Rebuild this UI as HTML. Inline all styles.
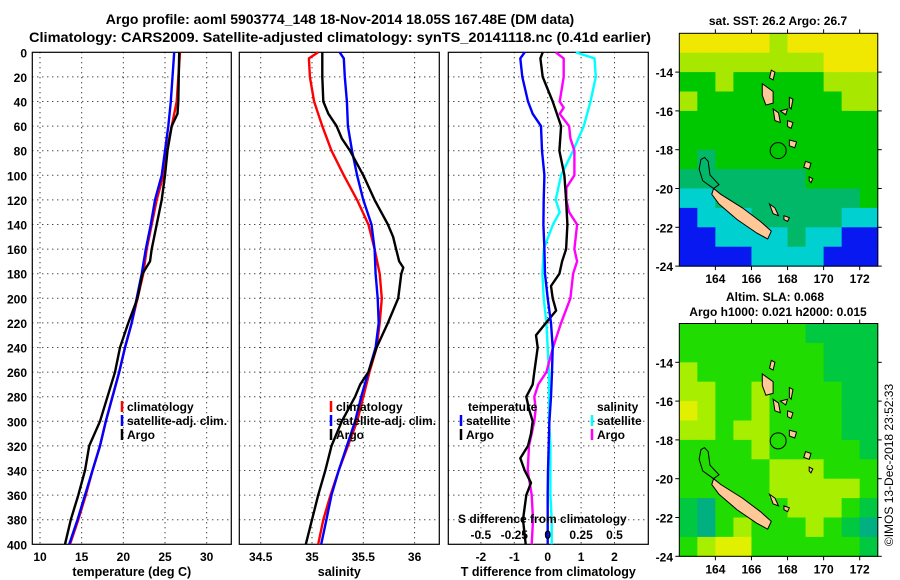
<!DOCTYPE html>
<html><head><meta charset="utf-8"><style>
html,body{margin:0;padding:0;background:#fff;}
svg{display:block;font-family:"Liberation Sans",Arial,sans-serif;font-weight:bold;}
</style></head><body>
<svg id="fig" width="900" height="580" viewBox="0 0 900 580" xmlns="http://www.w3.org/2000/svg">
<text x="340" y="24" font-size="14" text-anchor="middle">Argo profile: aoml 5903774_148 18-Nov-2014 18.05S 167.48E (DM data)</text>
<text x="340" y="42" font-size="14" text-anchor="middle" textLength="622" lengthAdjust="spacingAndGlyphs">Climatology: CARS2009. Satellite-adjusted climatology: synTS_20141118.nc (0.41d earlier)</text>
<text x="778" y="25" font-size="12" text-anchor="middle">sat. SST: 26.2 Argo: 26.7</text>
<text x="775" y="301" font-size="12" text-anchor="middle">Altim. SLA: 0.068</text>
<text x="778" y="316" font-size="12" text-anchor="middle">Argo h1000: 0.021 h2000: 0.015</text>
<text transform="translate(893,465) rotate(-90)" font-size="12" font-weight="normal" text-anchor="middle">©IMOS 13-Dec-2018 23:52:33</text>
</svg>
<script>
// ---------- DATA ----------
const depthTicks = [0,20,40,60,80,100,120,140,160,180,200,220,240,260,280,300,320,340,360,380,400];
const tempTicks = [10,15,20,25,30];
const salTicks = [34.5,35,35.5,36];
const tdiffTicks = [-2,-1,0,1,2];
const sdiffTickLabels = ["-0.5","-0.25","0","0.25","0.5"];
const sdiffTicks = [-0.5,-0.25,0,0.25,0.5];

const tClimP = [0,40,60,80,100,120,140,160,180,200,220,240,260,280,300,320,340,360,380,400];
const tClimV = [26.8,26.4,25.8,25.2,24.8,24.0,23.4,22.8,22.4,21.7,21.0,20.2,19.5,18.7,17.9,17.2,16.3,15.5,14.6,13.6];
const tSatP = [0,20,40,60,80,100,120,140,160,180,200,220,240,260,280,300,320,340,360,380,400];
const tSatV = [26.1,25.9,25.7,25.4,25.0,24.6,23.8,23.3,22.7,22.2,21.6,21.0,20.2,19.5,18.7,17.9,17.2,16.3,15.4,14.5,13.5];
const tArgoP = [0,40,50,60,80,100,120,140,160,170,180,190,200,220,240,260,280,300,320,340,360,380,400];
const tArgoV = [26.7,26.6,26.5,25.8,25.3,25.0,24.6,24.0,23.4,23.2,22.3,22.0,21.7,20.6,19.6,19.0,18.1,17.2,15.9,15.4,14.6,13.7,13.0];

const sClimP = [0,5,20,40,60,80,100,120,140,160,180,200,220,240,260,280,300,320,340,360,380,400];
const sClimV = [35.06,34.97,34.98,35.02,35.10,35.19,35.31,35.44,35.55,35.61,35.66,35.68,35.66,35.63,35.56,35.50,35.44,35.35,35.26,35.18,35.11,35.06];
const sSatP = [0,5,20,40,60,80,100,120,140,160,180,200,220,240,260,280,300,320,340,360,380,400];
const sSatV = [35.27,35.31,35.32,35.34,35.35,35.39,35.44,35.50,35.58,35.61,35.62,35.64,35.65,35.62,35.55,35.48,35.42,35.34,35.26,35.19,35.14,35.09];
const sArgoP = [0,20,40,50,60,70,80,100,120,140,150,160,170,175,180,200,220,240,260,270,280,300,320,340,360,380,400];
const sArgoV = [35.10,35.10,35.11,35.16,35.24,35.29,35.37,35.50,35.61,35.74,35.79,35.82,35.85,35.89,35.87,35.84,35.74,35.63,35.55,35.47,35.42,35.29,35.19,35.13,35.06,35.00,34.94];

const dTSatP = [0,5,20,40,50,60,80,100,120,140,160,180,200,220,240,260,280,300,320,340,360,380,400];
const dTSatV = [-0.69,-0.82,-0.76,-0.59,-0.45,-0.20,-0.17,-0.10,-0.12,-0.13,-0.10,-0.08,0,0.10,0.15,0.13,0.10,0.05,0.03,0.01,0,0,0];
const dTArgoP = [0,5,20,40,60,80,100,120,140,160,170,180,190,200,210,220,230,240,260,270,280,290,300,310,320,330,340,350,360,380,400];
const dTArgoV = [-0.15,-0.22,-0.15,0.15,0.40,0.35,0.50,0.55,0.59,0.55,0.43,0.35,0.10,0.15,0.25,-0.05,-0.35,-0.30,-0.40,-0.45,-0.64,-0.56,-0.45,-0.50,-0.59,-0.82,-0.69,-0.50,-0.64,-0.74,-0.66];
const dSArgoP = [0,5,20,40,45,50,60,70,80,100,110,120,130,140,160,170,180,200,220,240,260,270,280,290,300,310,320,340,360,380,400];
const dSArgoV = [0.06,0.12,0.12,0.09,0.12,0.09,0.16,0.17,0.20,0.20,0.14,0.14,0.16,0.22,0.20,0.22,0.19,0.17,0.10,0.04,-0.01,-0.07,-0.10,-0.09,-0.10,-0.12,-0.14,-0.15,-0.12,-0.11,-0.12];
const dSSatP = [0,5,20,40,60,80,100,120,130,140,160,180,200,220,240,260,280,300,320,340,360,380,400];
const dSSatV = [0.21,0.35,0.36,0.32,0.27,0.19,0.10,0.06,0.09,0.04,-0.03,-0.04,-0.03,-0.01,0,0.01,0.01,0.01,0.02,0.02,0.02,0.03,0.03];

const lonTicks = [164,166,168,170,172];
const latTicks = [-14,-16,-18,-20,-22,-24];
const sstGrid = [
 [5,5,5,5,5,4,5,5,5,5,5],
 [4,4,4,4,4,4,4,4,5,5,5],
 [3,3,4,3,3,3,3,3,4,4,4],
 [4,3,3,3,3,3,3,3,3,4,4],
 [3,3,3,3,3,3,3,3,3,3,3],
 [3,3,3,3,3,3,3,3,3,3,3],
 [3,2,3,3,3,3,3,3,3,3,3],
 [2,2,2,2,2,2,2,3,3,3,3],
 [1,1,2,2,2,2,2,2,2,2,3],
 [0,1,1,1,2,2,2,2,2,1,1],
 [0,0,1,1,1,1,2,1,1,0,0],
 [0,0,0,0,1,1,1,1,0,0,0]];
const slaGrid = [
 [2,2,2,2,2,2,2,1,1,1,1],
 [2,2,2,2,2,2,2,2,1,1,1],
 [3,2,2,2,2,2,2,2,1,1,1],
 [3,3,2,2,3,2,2,2,2,1,1],
 [4,3,2,2,3,2,2,2,2,1,1],
 [3,3,2,3,3,2,2,2,2,1,1],
 [2,2,2,2,3,2,2,2,2,2,1],
 [2,2,2,2,2,3,3,3,2,2,2],
 [2,2,2,2,2,3,3,3,3,3,2],
 [1,0,2,2,2,2,3,3,3,2,1],
 [1,0,2,3,2,2,2,3,2,1,0],
 [2,3,4,4,2,2,2,2,2,2,1]];
const sstColors = ["#0818f0","#00d0d0","#00b868","#00c800","#a8e800","#f0e800"];
const slaColors = ["#00b080","#00c840","#20dc00","#a8ee00","#e0f000"];
const islands = [
 [[163.9,-20.0],[164.3,-20.3],[165.5,-21.0],[166.5,-21.7],[167.1,-22.2],[166.9,-22.6],[166.3,-22.3],[165.2,-21.6],[164.2,-20.8],[163.8,-20.3]],
 [[166.6,-14.6],[167.2,-15.0],[167.2,-15.6],[166.8,-15.7],[166.6,-15.2]],
 [[167.2,-15.9],[167.5,-16.1],[167.6,-16.6],[167.3,-16.5]],
 [[168.1,-17.5],[168.5,-17.6],[168.4,-17.9],[168.1,-17.8]],
 [[169.0,-18.6],[169.3,-18.7],[169.2,-19.0],[168.9,-18.9]],
 [[169.2,-19.4],[169.4,-19.5],[169.3,-19.7],[169.2,-19.6]],
 [[167.0,-20.8],[167.3,-21.0],[167.5,-21.4],[167.2,-21.3]],
 [[167.8,-21.4],[168.1,-21.5],[168.0,-21.7],[167.8,-21.6]],
 [[167.6,-16.0],[168.0,-15.9],[167.9,-16.2]],
 [[168.0,-16.5],[168.3,-16.6],[168.2,-16.9],[168.0,-16.8]],
 [[167.1,-13.9],[167.3,-14.0],[167.2,-14.4],[167.0,-14.3]],
 [[168.1,-15.3],[168.3,-15.4],[168.2,-15.9],[168.1,-15.8]]];
const reef = [[163.4,-18.4],[163.6,-18.6],[163.7,-19.3],[164.2,-19.8],[163.9,-20.0],[163.3,-19.6],[163.1,-19.0],[163.2,-18.5]];
const argoPos = [167.48,-18.05];

// ---------- DRAW ----------
const svg = document.getElementById('fig');
const NS = 'http://www.w3.org/2000/svg';
function mk(tag, attrs, parent){const e=document.createElementNS(NS,tag);for(const k in attrs)e.setAttribute(k,attrs[k]);(parent||svg).appendChild(e);return e;}
const yP = p => 52.3 + p*1.23;
const panels = [
 {x0:32.3,x1:231.3,sx:v=>40+(v-10)*8.333,ticks:tempTicks,name:'temperature-panel',label:'temperature (deg C)'},
 {x0:239.3,x1:439.3,sx:v=>260.7+(v-34.5)*102.6,ticks:salTicks,name:'salinity-panel',label:'salinity'},
 {x0:448.3,x1:648.3,sx:v=>547.7+v*33.4,ticks:tdiffTicks,name:'difference-panel',label:'T difference from climatology'}];
panels.forEach((pn,i)=>{
  const g=mk('g',{});
  
  
  depthTicks.forEach(d=>{ if(d>0&&d<400){const l=mk('line',{x1:pn.x0,x2:pn.x1,y1:yP(d),y2:yP(d),stroke:'#000','stroke-width':1,'stroke-dasharray':'1,4'},g);
    
    }
    if(i===0){const t=mk('text',{x:27,y:yP(d)+5,'font-size':12,'text-anchor':'end'},g);t.textContent=d;
    
    }});
  pn.ticks.forEach(v=>{const x=pn.sx(v);
    const l=mk('line',{x1:x,x2:x,y1:52.3,y2:544.3,stroke:'#000','stroke-width':1,'stroke-dasharray':'1,4'},g);
    
    
    const t=mk('text',{x:x,y:561,'font-size':12,'text-anchor':'middle'},g);t.textContent=v;
    
    });
  const r=mk('rect',{x:pn.x0,y:52.3,width:pn.x1-pn.x0,height:492,fill:'none',stroke:'#000','stroke-width':1.2},g);
  
  
  const xl=mk('text',{x:(pn.x0+pn.x1)/2,y:576,'font-size':12.5,'text-anchor':'middle'},g);xl.textContent=pn.label;
  
  
});
function series(P,V,sx,color,name){
  const pts=P.map((p,k)=>sx(V[k]).toFixed(1)+','+yP(p).toFixed(1)).join(' ');
  const l=mk('polyline',{points:pts,fill:'none',stroke:color,'stroke-width':2.4,'stroke-linejoin':'round'});
  
  
}
const s1=panels[0].sx,s2=panels[1].sx,s3=panels[2].sx,s3s=v=>panels[2].sx(v*4);
series(tClimP,tClimV,s1,'#ff0000','temperature-climatology-line');
series(tSatP,tSatV,s1,'#0000ff','temperature-satellite-line');
series(tArgoP,tArgoV,s1,'#000000','temperature-argo-line');
series(sClimP,sClimV,s2,'#ff0000','salinity-climatology-line');
series(sSatP,sSatV,s2,'#0000ff','salinity-satellite-line');
series(sArgoP,sArgoV,s2,'#000000','salinity-argo-line');
series(dSSatP,dSSatV,s3s,'#00ffff','salinity-diff-satellite-line');
series(dSArgoP,dSArgoV,s3s,'#ff00ff','salinity-diff-argo-line');
series(dTArgoP,dTArgoV,s3,'#000000','temperature-diff-argo-line');
series(dTSatP,dTSatV,s3,'#0000ff','temperature-diff-satellite-line');

function legend(x,y,color,label,name){
  const l=mk('line',{x1:x,x2:x,y1:y-10,y2:y+1,stroke:color,'stroke-width':2.5});
  
  
  const t=mk('text',{x:x+5,y:y,'font-size':12});t.textContent=label;
  
  
}
legend(122,411,'#ff0000','climatology','legend-climatology');
legend(122,425,'#0000ff','satellite-adj. clim.','legend-satellite');
legend(122,439,'#000000','Argo','legend-argo');
legend(331,411,'#ff0000','climatology','legend-climatology-2');
legend(331,425,'#0000ff','satellite-adj. clim.','legend-satellite-2');
legend(331,439,'#000000','Argo','legend-argo-2');
legend(461,425,'#0000ff','satellite','legend-t-satellite');
legend(461,439,'#000000','Argo','legend-t-argo');
legend(592,425,'#00ffff','satellite','legend-s-satellite');
legend(592,439,'#ff00ff','Argo','legend-s-argo');
let tt=mk('text',{x:468,y:411,'font-size':12});tt.textContent='temperature';


tt=mk('text',{x:597,y:411,'font-size':12});tt.textContent='salinity';


tt=mk('text',{x:458,y:523,'font-size':12});tt.textContent='S difference from climatology';


sdiffTicks.forEach((v,k)=>{const t=mk('text',{x:s3s(v),y:539,'font-size':12,'text-anchor':'middle'});t.textContent=sdiffTickLabels[k];
  
  });

// maps
function drawMap(top,grid,colors,name){
  const X=lon=>679.3+(lon-162)*18.04, Y=lat=>top+(-12-lat)*19.4;
  const g=mk('g',{});
  
  
  grid.forEach((row,r)=>row.forEach((v,c)=>{
    const cell=mk('rect',{x:X(162+c),y:Y(-12-r),width:18.6,height:20,fill:colors[v]},g);
    
    }));
  const rf=mk('polygon',{points:reef.map(p=>X(p[0])+','+Y(p[1])).join(' '),fill:'none',stroke:'#000','stroke-width':1},g);
  
  
  islands.forEach(is=>{const p=mk('polygon',{points:is.map(q=>X(q[0])+','+Y(q[1])).join(' '),fill:'#ffc896',stroke:'#000','stroke-width':1},g);
    
    });
  const c=mk('circle',{cx:X(argoPos[0]),cy:Y(argoPos[1]),r:8,fill:'none',stroke:'#000','stroke-width':1},g);
  
  
  const fr=mk('rect',{x:X(162),y:Y(-12),width:X(173)-X(162),height:Y(-24)-Y(-12),fill:'none',stroke:'#000','stroke-width':1},g);
  
  
  latTicks.forEach(l=>{mk('line',{x1:X(162)-4,x2:X(162),y1:Y(l),y2:Y(l),stroke:'#000'},g);
    mk('line',{x1:X(173),x2:X(173)+4,y1:Y(l),y2:Y(l),stroke:'#000'},g);
    const t=mk('text',{x:673,y:Y(l)+5,'font-size':12,'text-anchor':'end'},g);t.textContent=l;
    
    });
  lonTicks.forEach(l=>{mk('line',{x1:X(l),x2:X(l),y1:Y(-24),y2:Y(-24)+4,stroke:'#000'},g);
    mk('line',{x1:X(l),x2:X(l),y1:Y(-12)-4,y2:Y(-12),stroke:'#000'},g);
    const t=mk('text',{x:X(l),y:Y(-24)+17,'font-size':12,'text-anchor':'middle'},g);t.textContent=l;
    
    });
}
drawMap(33.3,sstGrid,sstColors,'sst-map');
drawMap(323.5,slaGrid,slaColors,'sla-map');
</script>
</body></html>
